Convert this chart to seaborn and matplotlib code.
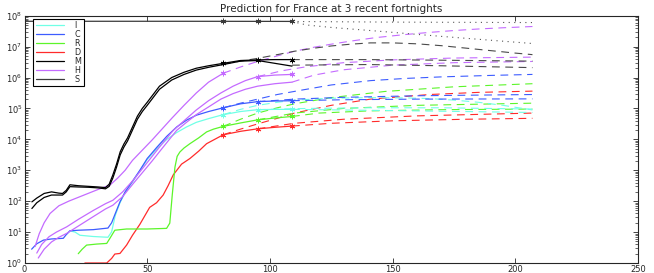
import numpy as np
import pandas as pd
import seaborn as sns
import matplotlib
matplotlib.use('Agg')
import matplotlib.pyplot as plt
from matplotlib.lines import Line2D

# ends of the 3 recent fortnights (start of each prediction)
fortnights = [81, 95, 109]
labels = ['I', 'C', 'R', 'D', 'M', 'H', 'S']
colors = {'I': '#70ffe6', 'C': '#3d5cff', 'R': '#5cf52a', 'D': '#ff2b2b',
          'M': '#000000', 'H': '#c46bff', 'S': '#3a3a3a'}

# ---- observed / fitted curves (solid) ----
S_x = [0.5, 20, 40, 60, 81, 95, 109]
S_y = [6.6e7, 6.6e7, 6.6e7, 6.6e7, 6.58e7, 6.56e7, 6.53e7]

M1_x = [3, 5, 8, 11, 14, 15.5, 17, 18.5, 22, 26, 30, 33, 34.5, 36, 37.5, 39, 40.5, 42,
        44, 46, 48, 50, 55, 60, 65, 70, 75, 81, 88, 95, 102, 109]
M1_y = [95, 126, 178, 200, 182, 178, 224, 339, 316, 302, 288, 275, 355, 708, 1580, 3980,
        7080, 1.12e4, 2.51e4, 5.62e4, 1.0e5, 1.58e5, 5.25e5, 1.0e6, 1.48e6, 2.0e6, 2.4e6,
        2.88e6, 3.55e6, 3.72e6, 3.8e6, 3.8e6]
M2_x = M1_x
M2_y = [58, 89, 132, 158, 158, 158, 200, 295, 288, 282, 269, 251, 302, 562, 1260, 3160,
        5620, 8910, 2.0e4, 4.47e4, 7.94e4, 1.26e5, 4.17e5, 8.32e5, 1.26e6, 1.74e6, 2.14e6,
        2.63e6, 3.39e6, 3.55e6, 2.88e6, 2.34e6]

H1_x = [4.3, 6, 8, 10.4, 14, 18, 24, 30, 34.8, 38, 41, 44, 48, 52, 56, 60, 65, 70, 75, 81]
H1_y = [3.4, 8.9, 20, 40, 71, 100, 155, 240, 331, 562, 1000, 2090, 4470, 9550, 2.14e4,
        4.79e4, 1.26e5, 3.16e5, 7.08e5, 1.38e6]
H2_x = [5, 7, 10, 13, 17.2, 22, 28, 33, 36, 40, 44.3, 48, 52, 56, 60.6, 65, 70, 75, 80,
        85, 90, 95, 102, 109]
H2_y = [2.1, 4.0, 7.1, 10, 14.8, 26, 50, 83, 107, 200, 479, 1120, 2820, 7080, 1.95e4,
        3.98e4, 8.91e4, 1.78e5, 3.16e5, 5.25e5, 7.94e5, 1.07e6, 1.2e6, 1.26e6]
H3_x = [5.6, 8, 11, 14, 17.2, 22, 28, 33, 36, 40, 44.3, 48, 52, 56, 62, 66, 70, 75, 80,
        85, 90, 95, 102, 109]
H3_y = [1.45, 2.8, 4.8, 6.8, 9.1, 15.8, 31.6, 56, 74, 141, 372, 832, 2000, 5010, 1.95e4,
        3.55e4, 6.31e4, 1.12e5, 2.0e5, 3.02e5, 4.17e5, 5.25e5, 6.31e5, 7.08e5]

C_x = [2.9, 5, 7.7, 11, 15.8, 17, 18.5, 22, 28, 34, 35.5, 37, 38.9, 41, 44.3, 47, 50, 54,
       58, 62, 66, 70, 75, 81, 88, 95, 102, 109]
C_y = [2.8, 4.2, 5.5, 6.0, 6.3, 8.3, 11, 11.5, 12, 13.5, 20, 40, 95, 200, 479, 1000, 2400,
       5620, 1.26e4, 2.51e4, 4.17e4, 6.03e4, 7.94e4, 1.05e5, 1.41e5, 1.66e5, 1.74e5, 1.78e5]

I_x = [17, 18.5, 20.6, 22.6, 28, 34, 35.5, 37, 38.9, 41, 44.3, 47, 50, 54, 58, 62, 66, 70,
       75, 81, 88, 95, 102, 109]
I_y = [8.3, 11, 10, 7.9, 7.2, 6.8, 10.2, 35, 89, 191, 457, 955, 2240, 5010, 1.0e4, 1.66e4,
       2.51e4, 3.55e4, 4.68e4, 6.31e4, 7.94e4, 9.12e4, 9.33e4, 9.33e4]

R_x = [21.9, 23.5, 25.3, 29.4, 33.5, 34.8, 36.8, 41.6, 50, 57.9, 59.2, 60.2, 61.3, 62.2,
       63.3, 65, 67.4, 71, 74.2, 77, 81, 88, 95, 102, 109]
R_y = [2.0, 2.8, 3.8, 4.1, 4.3, 6.3, 11.5, 12.6, 12.6, 13.2, 19.5, 158, 1260, 2820, 3890,
       5250, 7240, 1.12e4, 1.74e4, 2.14e4, 2.63e4, 3.39e4, 4.27e4, 4.9e4, 5.5e4]

D_x = [24.6, 30, 33.5, 35.5, 36.8, 38.9, 41.6, 44, 47, 51, 53.8, 56.5, 58.5, 60.6, 64,
       67.4, 71, 74.2, 77.5, 81, 88, 95, 102, 109]
D_y = [1, 1, 1, 1.41, 1.95, 2.04, 3.8, 7.9, 17.8, 63, 89, 158, 316, 708, 1580, 2400, 4170,
       7240, 1.0e4, 1.41e4, 1.82e4, 2.19e4, 2.45e4, 2.69e4]

# ---- predictions (dashed / dotted) ----
S_p1_x = [109, 150, 207]
S_p1_y = [6.5e7, 6.2e7, 6.0e7]
S_p2_x = [109, 115, 125, 141, 170, 207]
S_p2_y = [6.5e7, 5.0e7, 4.17e7, 3.31e7, 2.14e7, 1.26e7]

M_p1_x = [81, 88, 95, 103, 110, 118, 125, 133, 141, 150, 160, 170, 180, 190, 200, 207]
M_p1_y = [2.75e6, 3.39e6, 4.17e6, 5.5e6, 7.08e6, 8.91e6, 1.05e7, 1.2e7, 1.32e7, 1.32e7,
          1.23e7, 1.07e7, 8.91e6, 7.41e6, 6.17e6, 5.5e6]
M_p2_x = [109, 140, 170, 207]
M_p2_y = [3.8e6, 3.8e6, 3.63e6, 3.39e6]
M_p3_x = [109, 140, 170, 207]
M_p3_y = [2.51e6, 2.63e6, 2.4e6, 2.09e6]

H_p1_x = [81, 88, 95, 103, 110, 118, 125, 133, 143, 155, 165, 175, 185, 195, 207]
H_p1_y = [1.38e6, 2.19e6, 3.31e6, 5.01e6, 7.08e6, 9.55e6, 1.2e7, 1.51e7, 1.95e7, 2.45e7,
          2.88e7, 3.31e7, 3.72e7, 4.07e7, 4.47e7]
H_p2_x = [95, 105, 115, 130, 150, 175, 207]
H_p2_y = [1.07e6, 1.66e6, 2.24e6, 3.02e6, 3.72e6, 4.27e6, 4.57e6]
H_p3_x = [109, 118, 130, 150, 175, 207]
H_p3_y = [7.08e5, 1.2e6, 1.78e6, 2.51e6, 3.02e6, 3.31e6]

C_p1_x = [81, 88, 95, 103, 112, 125, 141, 155, 170, 190, 207]
C_p1_y = [1.05e5, 1.48e5, 2.0e5, 2.82e5, 3.8e5, 5.75e5, 7.94e5, 9.33e5, 1.05e6, 1.17e6, 1.26e6]
C_p2_x = [95, 110, 130, 160, 207]
C_p2_y = [1.66e5, 2.0e5, 2.29e5, 2.57e5, 2.82e5]
C_p3_x = [109, 130, 160, 207]
C_p3_y = [1.78e5, 1.91e5, 2.0e5, 2.04e5]

I_p1_x = [81, 88, 95, 103, 110, 125, 140, 155, 165, 175, 185, 195, 207]
I_p1_y = [6.31e4, 9.33e4, 1.26e5, 1.58e5, 1.86e5, 2.14e5, 2.24e5, 2.19e5, 2.09e5, 1.86e5,
          1.58e5, 1.26e5, 8.91e4]
I_p2_x = [95, 115, 140, 170, 207]
I_p2_y = [9.12e4, 1.0e5, 1.05e5, 1.05e5, 9.55e4]
I_p3_x = [109, 130, 160, 207]
I_p3_y = [9.33e4, 8.91e4, 8.32e4, 7.41e4]

R_p1_x = [81, 88, 95, 103, 110, 125, 147, 175, 207]
R_p1_y = [2.63e4, 4.47e4, 7.08e4, 1.05e5, 1.41e5, 2.24e5, 3.55e5, 5.01e5, 6.31e5]
R_p2_x = [95, 110, 130, 160, 207]
R_p2_y = [4.27e4, 7.08e4, 1.0e5, 1.26e5, 1.48e5]
R_p3_x = [109, 120, 140, 170, 207]
R_p3_y = [5.5e4, 7.08e4, 8.32e4, 9.12e4, 9.55e4]

D_p1_x = [81, 88, 95, 103, 110, 125, 141, 165, 185, 207]
D_p1_y = [1.41e4, 2.14e4, 3.16e4, 4.79e4, 7.08e4, 1.26e5, 2.0e5, 2.82e5, 3.31e5, 3.63e5]
D_p2_x = [95, 110, 130, 160, 207]
D_p2_y = [2.19e4, 3.31e4, 4.47e4, 5.75e4, 7.08e4]
D_p3_x = [109, 125, 150, 180, 207]
D_p3_y = [2.69e4, 3.31e4, 3.98e4, 4.47e4, 4.79e4]

# (key, x, y, fortnights marked with *)
solid = [('D', D_x, D_y, fortnights), ('R', R_x, R_y, fortnights),
         ('I', I_x, I_y, fortnights), ('C', C_x, C_y, fortnights),
         ('H', H3_x, H3_y, []), ('H', H2_x, H2_y, [95, 109]), ('H', H1_x, H1_y, [81]),
         ('M', M2_x, M2_y, []), ('M', M1_x, M1_y, fortnights),
         ('S', S_x, S_y, fortnights)]
dashed = [('D', D_p1_x, D_p1_y), ('D', D_p2_x, D_p2_y), ('D', D_p3_x, D_p3_y),
          ('R', R_p1_x, R_p1_y), ('R', R_p2_x, R_p2_y), ('R', R_p3_x, R_p3_y),
          ('I', I_p1_x, I_p1_y), ('I', I_p2_x, I_p2_y), ('I', I_p3_x, I_p3_y),
          ('C', C_p1_x, C_p1_y), ('C', C_p2_x, C_p2_y), ('C', C_p3_x, C_p3_y),
          ('H', H_p1_x, H_p1_y), ('H', H_p2_x, H_p2_y), ('H', H_p3_x, H_p3_y),
          ('M', M_p1_x, M_p1_y), ('M', M_p2_x, M_p2_y), ('M', M_p3_x, M_p3_y)]
dotted = [('S', S_p1_x, S_p1_y), ('S', S_p2_x, S_p2_y)]

sns.set_style('ticks')
plt.rcParams['font.family'] = ['DejaVu Sans']

fig, ax = plt.subplots(figsize=(6.54, 2.73), dpi=100)
fig.subplots_adjust(left=0.0375, right=0.9755, bottom=0.0366, top=0.9425)
ax.set_yscale('log')

for key, xs, ys in dashed:
    c = colors[key] if key != 'M' else '#4a4a4a'
    sns.lineplot(x=xs, y=ys, ax=ax, color=c, lw=0.8, linestyle=(0, (7, 5)),
                 estimator=None, sort=False)
for key, xs, ys in dotted:
    sns.lineplot(x=xs, y=ys, ax=ax, color='#555555', lw=0.8, linestyle=(0, (1, 4)),
                 estimator=None, sort=False)
for key, xs, ys, marks in solid:
    sns.lineplot(x=xs, y=ys, ax=ax, color=colors[key], lw=0.9, estimator=None, sort=False)
    if marks:
        my = np.interp(marks, xs, ys)
        ax.plot(marks, my, linestyle='none', marker=(6, 2, 0), ms=4, mew=0.7,
                color=colors[key])

ax.set_xlim(0, 250)
ax.set_ylim(1, 1e8)
ax.set_xticks([0, 50, 100, 150, 200, 250])
ax.set_yticks([10.0 ** k for k in range(9)])
ax.tick_params(which='both', direction='in', top=True, right=True, labelsize=6, pad=1.5)
ax.tick_params(which='major', length=3.5, width=0.6)
ax.tick_params(which='minor', length=2, width=0.5)
for sp in ax.spines.values():
    sp.set_linewidth(0.8)
ax.set_title('Prediction for France at 3 recent fortnights', fontsize=7.5, pad=3)

handles = [Line2D([], [], color=colors[k], lw=0.9) for k in labels]
leg = ax.legend(handles, labels, loc='upper left', bbox_to_anchor=(0.012, 0.995),
                fontsize=5.8, labelspacing=0.0, handlelength=3.5, handletextpad=1.3,
                borderpad=0.3, borderaxespad=0.2, fancybox=False, framealpha=1,
                edgecolor='black')
leg.get_frame().set_linewidth(0.8)

fig.savefig('out.png', dpi=100)
